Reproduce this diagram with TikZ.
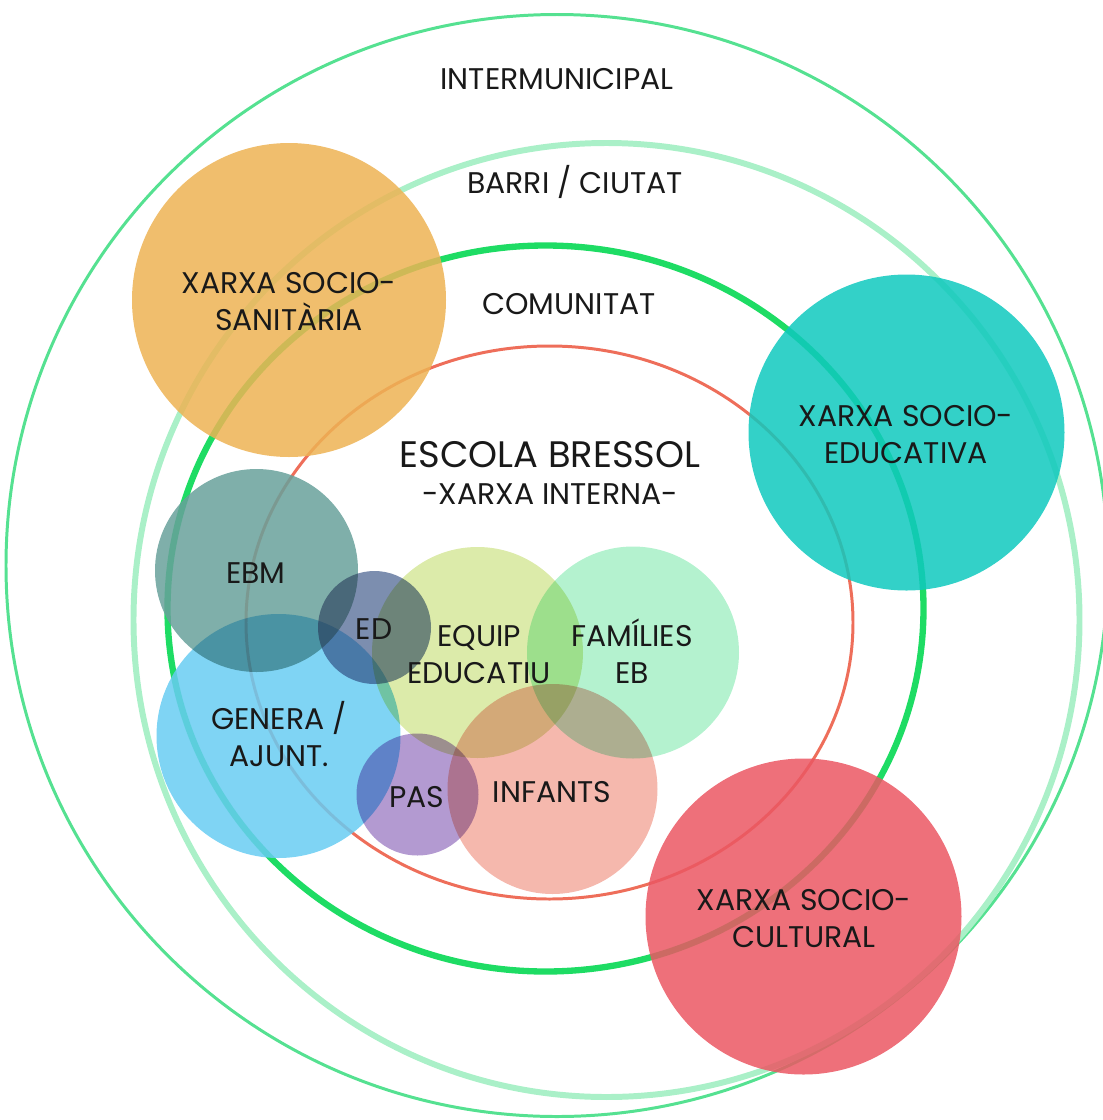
\documentclass[tikz,border=0pt]{standalone}
\usepackage{fontspec}
\setmainfont{Poppins}
\definecolor{intercol}{RGB}{85,225,145}
\definecolor{barricol}{RGB}{170,240,200}
\definecolor{comucol}{RGB}{30,220,100}
\definecolor{escolacol}{RGB}{238,110,90}
\definecolor{sanitcol}{RGB}{237,179,84}
\definecolor{educol}{RGB}{15,201,190}
\definecolor{cultcol}{RGB}{235,87,99}
\definecolor{ebmcol}{RGB}{104,161,155}
\definecolor{generacol}{RGB}{104,204,242}
\definecolor{edcol}{RGB}{101,122,161}
\definecolor{equipcol}{RGB}{214,231,155}
\definecolor{famcol}{RGB}{167,240,199}
\definecolor{infcol}{RGB}{243,171,159}
\definecolor{pascol}{RGB}{166,136,201}

\begin{document}
\begin{tikzpicture}[x=0.02cm,y=-0.02cm,
  lbl/.style={align=center,anchor=base,text=black!90,font=\fontsize{17}{20.5}\selectfont},
  biglbl/.style={align=center,anchor=base,text=black!90,font=\fontsize{21}{24}\selectfont}]
\useasboundingbox (0,0) rectangle (1103,1120);
\clip (0,0) rectangle (1103,1120);

% rings
\draw[intercol, line width=1.7pt] (557,565.5) circle [radius=551];
\draw[barricol, line width=3.4pt] (606.5,620) ellipse [x radius=473, y radius=477];
\draw[comucol, line width=3.6pt] (545.5,608.5) ellipse [x radius=378, y radius=363];
\draw[escolacol, line width=1.7pt] (549.5,622.5) ellipse [x radius=303.5, y radius=276.5];

% bubbles
\begin{scope}[transparency group=isolated, opacity=0.85]
\begin{scope}[blend mode=multiply]
\fill[sanitcol] (289,300) circle [radius=157];
\fill[educol] (906.5,432.5) circle [radius=158];
\fill[cultcol] (803.5,916.5) circle [radius=158];
\fill[generacol] (278.5,736) circle [radius=122];
\fill[ebmcol] (256.5,570.5) circle [radius=101.5];
\fill[equipcol] (477.5,652.5) circle [radius=105.5];
\fill[famcol] (633,652.5) circle [radius=106];
\fill[infcol] (552.5,789) circle [radius=105];
\fill[pascol] (417.5,794.5) circle [radius=61];
\fill[edcol] (374.5,627.5) circle [radius=56.5];
\end{scope}
\end{scope}

% labels (two-line ones sit on their last baseline)
\node[lbl] (intermunicipal) at (557,89) {INTERMUNICIPAL};
\node[lbl] (barri) at (575,193) {BARRI / CIUTAT};
\node[lbl] (comunitat) at (569,314) {COMUNITAT};
\node[lbl] (sanitaria) at (289,330) {XARXA SOCIO-\\SANITÀRIA};
\node[lbl] (educativa) at (906,463) {XARXA SOCIO-\\EDUCATIVA};
\node[lbl] (cultural) at (804,947) {XARXA SOCIO-\\CULTURAL};
\node[biglbl] (escola) at (550,467) {ESCOLA BRESSOL};
\node[lbl] (interna) at (550,504) {-XARXA INTERNA-};
\node[lbl] (ebm) at (256,583) {EBM};
\node[lbl] (ed) at (374,639) {ED};
\node[lbl] (equip) at (479,683) {EQUIP\\EDUCATIU};
\node[lbl] (families) at (632,683) {FAMÍLIES\\EB};
\node[lbl] (genera) at (279,766) {GENERA /\\AJUNT.};
\node[lbl] (pas) at (417,807) {PAS};
\node[lbl] (infants) at (552,802) {INFANTS};
\end{tikzpicture}
\end{document}
